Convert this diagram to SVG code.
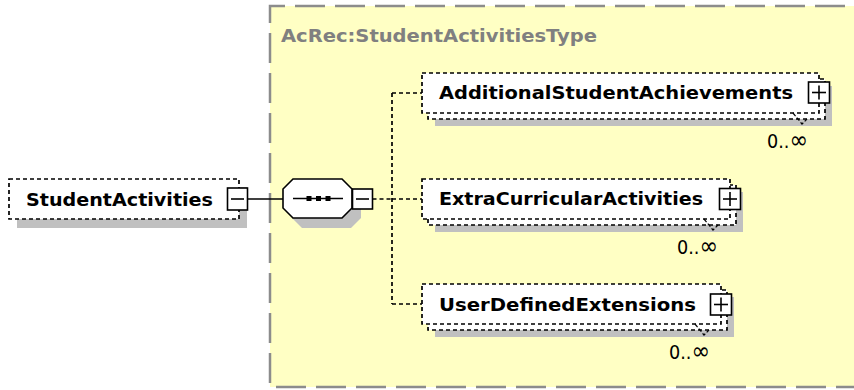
<svg xmlns="http://www.w3.org/2000/svg" width="854" height="390" viewBox="0 0 854 390">
<style>
.typebox{fill:#FFFFC4;stroke:#8c8c8c;stroke-width:2.5;stroke-dasharray:30 10;stroke-dashoffset:15}
.shadow{fill:#c0c0c0;stroke:none}
.node{fill:#fff;stroke:#000;stroke-width:1.7;stroke-dasharray:4 3}
.btn{fill:#fff;stroke:#000;stroke-width:1.6}
.sym{stroke:#000;stroke-width:1.6;fill:none}
.conn{stroke:#000;stroke-width:1.6;fill:none}
.dconn{stroke:#000;stroke-width:1.7;fill:none;stroke-dasharray:4 3}
.vmark{stroke:#000;stroke-width:1.2;fill:none;stroke-dasharray:4 2}
.name{font-family:"DejaVu Sans","Liberation Sans",sans-serif;font-weight:bold;font-size:18.5px;fill:#000}
.title{font-family:"DejaVu Sans","Liberation Sans",sans-serif;font-weight:bold;font-size:18.5px;fill:#808080}
.occ{font-family:"DejaVu Sans","Liberation Sans",sans-serif;font-size:19px;fill:#000}
.inf{font-size:24px}
</style>

<g id="type-StudentActivitiesType">
  <rect class="typebox" x="270" y="6" width="600" height="381"/>
  <text class="title" x="281" y="42" textLength="316" lengthAdjust="spacingAndGlyphs">AcRec:StudentActivitiesType</text>
</g>

<g id="connectors">
  <line class="conn" x1="247.5" y1="199" x2="283" y2="199"/>
  <line class="dconn" x1="372.5" y1="199" x2="392" y2="199"/>
  <line class="dconn" x1="392" y1="93" x2="392" y2="304"/>
  <line class="dconn" x1="392" y1="93" x2="422" y2="93"/>
  <line class="dconn" x1="392" y1="199" x2="422" y2="199"/>
  <line class="dconn" x1="392" y1="304" x2="422" y2="304"/>
</g>

<g id="node-StudentActivities">
  <rect class="shadow" x="17" y="187" width="230" height="41"/>
  <rect class="node" x="9" y="179" width="230" height="40"/>
  <text class="name" x="26" y="206" textLength="187" lengthAdjust="spacingAndGlyphs">StudentActivities</text>
  <rect class="btn" x="227.5" y="188" width="20" height="22"/>
  <line class="sym" x1="231" y1="199" x2="244" y2="199"/>
</g>

<g id="node-sequence">
  <polygon class="shadow" points="302,189 351,189 361,199 361,218 351,228 302,228 292,218 292,199"/>
  <polygon class="btn" points="293,179 342,179 352,189 352,208 342,218 293,218 283,208 283,189"/>
  <line class="sym" x1="293" y1="198.5" x2="343" y2="198.5"/>
  <rect x="306.5" y="196" width="5" height="5" fill="#000"/>
  <rect x="316" y="196" width="5" height="5" fill="#000"/>
  <rect x="325.5" y="196" width="5" height="5" fill="#000"/>
  <rect class="btn" x="352.5" y="189" width="20" height="20"/>
  <line class="sym" x1="356" y1="199" x2="369" y2="199"/>
</g>

<g id="node-AdditionalStudentAchievements">
  <rect class="shadow" x="435" y="86" width="397" height="40"/>
  <rect class="node" x="428" y="79" width="397" height="40"/>
  <rect class="node" x="422" y="73" width="397" height="40"/>
  <text class="name" x="439" y="99" textLength="354" lengthAdjust="spacingAndGlyphs">AdditionalStudentAchievements</text>
  <rect class="btn" x="808.5" y="82" width="21" height="21"/>
  <line class="sym" x1="812" y1="92.5" x2="826" y2="92.5"/>
  <line class="sym" x1="819" y1="85.5" x2="819" y2="99.5"/>
  <polyline class="vmark" points="793,113 802,124 807,119"/>
  <text class="occ" x="767" y="148" textLength="41" lengthAdjust="spacingAndGlyphs">0..<tspan class="inf">∞</tspan></text>
</g>

<g id="node-ExtraCurricularActivities">
  <rect class="shadow" x="435" y="192" width="308" height="40"/>
  <rect class="node" x="428" y="185" width="308" height="40"/>
  <rect class="node" x="422" y="179" width="308" height="40"/>
  <text class="name" x="439" y="205" textLength="264" lengthAdjust="spacingAndGlyphs">ExtraCurricularActivities</text>
  <rect class="btn" x="719.5" y="188.5" width="21" height="21"/>
  <line class="sym" x1="723" y1="199" x2="737" y2="199"/>
  <line class="sym" x1="730" y1="192" x2="730" y2="206"/>
  <polyline class="vmark" points="704,219 713,230 718,225"/>
  <text class="occ" x="677" y="254" textLength="41" lengthAdjust="spacingAndGlyphs">0..<tspan class="inf">∞</tspan></text>
</g>

<g id="node-UserDefinedExtensions">
  <rect class="shadow" x="435" y="297" width="299" height="40"/>
  <rect class="node" x="428" y="290" width="299" height="40"/>
  <rect class="node" x="422" y="284" width="299" height="40"/>
  <text class="name" x="439" y="311" textLength="257" lengthAdjust="spacingAndGlyphs">UserDefinedExtensions</text>
  <rect class="btn" x="710.5" y="294" width="21" height="21"/>
  <line class="sym" x1="714" y1="304.5" x2="728" y2="304.5"/>
  <line class="sym" x1="721" y1="297.5" x2="721" y2="311.5"/>
  <polyline class="vmark" points="695,324 704,335 709,330"/>
  <text class="occ" x="669" y="359" textLength="41" lengthAdjust="spacingAndGlyphs">0..<tspan class="inf">∞</tspan></text>
</g>
</svg>
